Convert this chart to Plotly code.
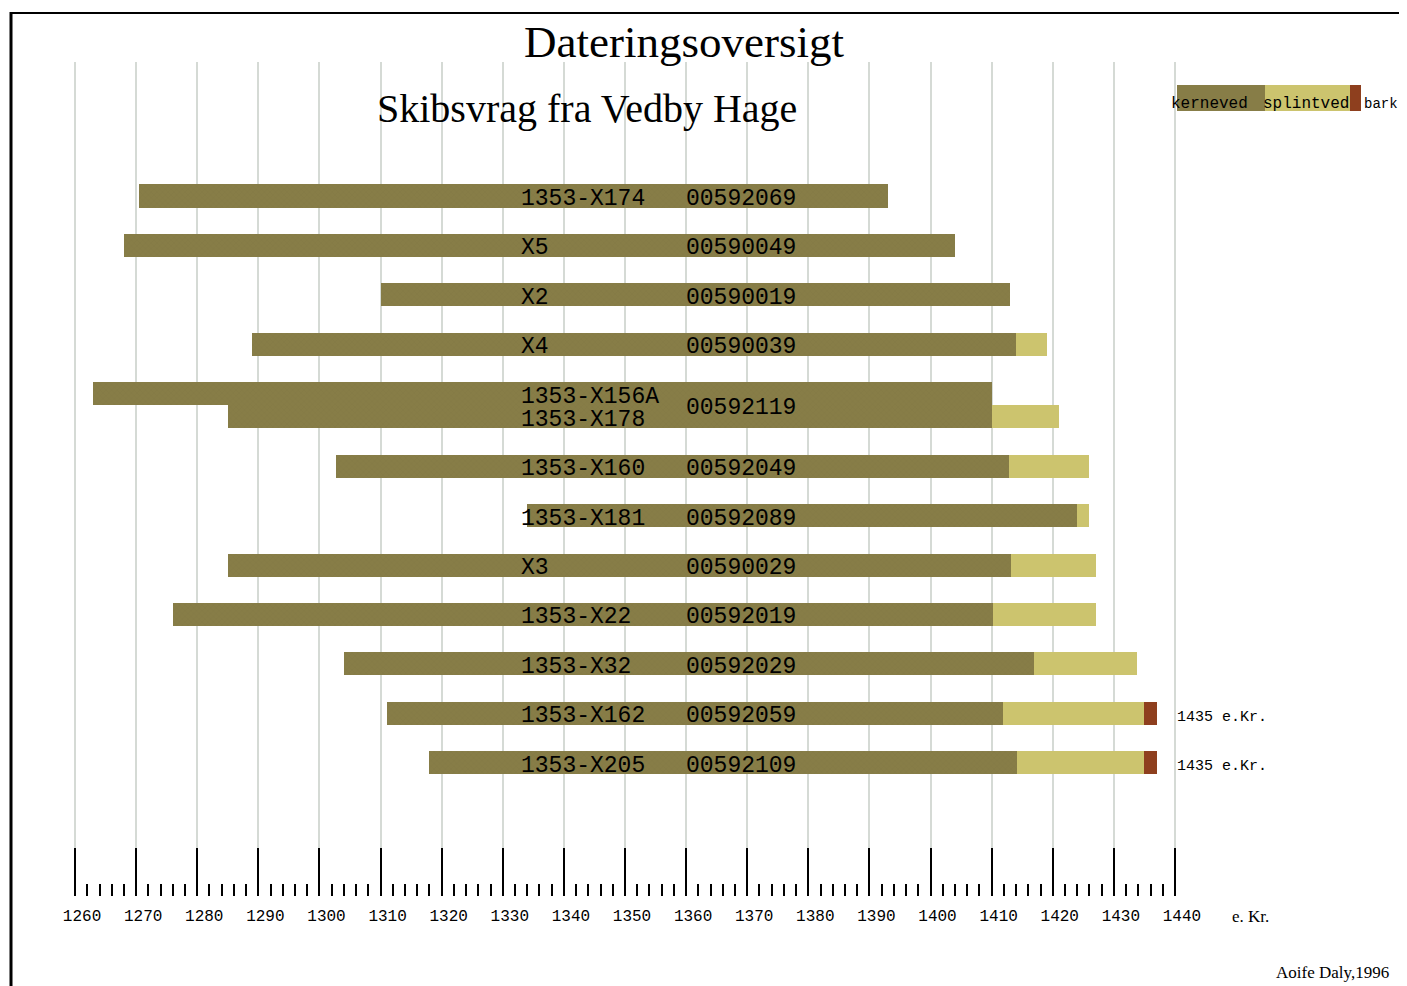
import plotly.graph_objects as go

# ---------------- data ----------------
sample_ids = ["1353-X174", "X5", "X2", "X4", "1353-X156A", "1353-X178", "1353-X160",
              "1353-X181", "X3", "1353-X22", "1353-X32", "1353-X162", "1353-X205"]
lab_codes = ["00592069", "00590049", "00590019", "00590039", "", "", "00592049",
             "00592089", "00590029", "00592019", "00592029", "00592059", "00592109"]
shared_code = "00592119"          # shared by 1353-X156A / 1353-X178
row_pos = [1, 2, 3, 4, 5, 5.47, 6.47, 7.47, 8.47, 9.47, 10.47, 11.47, 12.47]

first_ring = [1270.5, 1268, 1310, 1289, 1263, 1285, 1302.7, 1334, 1285, 1276, 1304, 1311, 1318]
heart_end = [1393, 1404, 1413, 1414, 1410, 1410, 1412.8, 1424, 1413.2, 1410.3, 1417, 1411.8, 1414.1]
sap_end = [1393, 1404, 1413, 1419, 1410, 1421, 1426, 1426, 1427, 1427, 1433.8, 1435, 1435]
bark_end = [1393, 1404, 1413, 1419, 1410, 1421, 1426, 1426, 1427, 1427, 1433.8, 1437, 1437]
felling_labels = {11: "1435 e.Kr.", 12: "1435 e.Kr."}

major_ticks = list(range(1260, 1441, 10))
tick_text = [str(t) for t in major_ticks]

HEART = "#877D47"
SAP = "#CCC46E"
BARK = "#8E3F1E"
GRID = "#D5DAD5"

# ---------------- layout geometry ----------------
OFF = 8                      # page body margin
W, H = 1407 - OFF, 986 - OFF
PLOT_L, PLOT_R, PLOT_T, PLOT_B = 72, 1178, 62, 896   # page pixels
ML, MT = PLOT_L - OFF, PLOT_T - OFF
MR = W - (PLOT_R - OFF)
MB = H - (PLOT_B - OFF)
PW, PH = W - ML - MR, H - MT - MB
X0, X1 = 1259.5, 1440.5


def px(xp):
    return (xp - PLOT_L) / PW


def py(yp):
    return (PLOT_B - yp) / PH


BAR_W = 0.466

fig = go.Figure()
fig.add_trace(go.Bar(
    orientation="h", y=row_pos, base=first_ring,
    x=[h - s for h, s in zip(heart_end, first_ring)], width=BAR_W,
    marker=dict(color=HEART, line=dict(width=0),
                pattern=dict(shape="x", fgcolor="#7D7441", bgcolor=HEART, size=4, solidity=0.25)),
    name="kerneved", showlegend=False, hoverinfo="skip"))
fig.add_trace(go.Bar(
    orientation="h", y=row_pos, base=heart_end,
    x=[s - h for s, h in zip(sap_end, heart_end)], width=BAR_W,
    marker=dict(color=SAP, line=dict(width=0)),
    name="splintved", showlegend=False, hoverinfo="skip"))
fig.add_trace(go.Bar(
    orientation="h", y=row_pos, base=sap_end,
    x=[b - s for b, s in zip(bark_end, sap_end)], width=BAR_W,
    marker=dict(color=BARK, line=dict(width=0)),
    name="bark", showlegend=False, hoverinfo="skip"))

LABEL_FONT = dict(family="Liberation Mono", size=23, color="black")
ann = []
for i, (sid, code, y) in enumerate(zip(sample_ids, lab_codes, row_pos)):
    ann.append(dict(x=1332.7, y=y, xref="x", yref="y", text=sid, showarrow=False,
                    xanchor="left", yanchor="middle", yshift=-3, font=LABEL_FONT))
    if code:
        ann.append(dict(x=1359.7, y=y, xref="x", yref="y", text=code, showarrow=False,
                        xanchor="left", yanchor="middle", yshift=-3, font=LABEL_FONT))
    if i in felling_labels:
        ann.append(dict(x=1440, y=y, xref="x", yref="y", text=felling_labels[i], showarrow=False,
                        xanchor="left", yanchor="middle", yshift=-4,
                        font=dict(family="Liberation Mono", size=15, color="black")))
ann.append(dict(x=1359.7, y=(row_pos[4] + row_pos[5]) / 2, xref="x", yref="y", text=shared_code,
                showarrow=False, xanchor="left", yanchor="middle", yshift=-3, font=LABEL_FONT))

# titles and notes
ann += [
    dict(x=px(684), y=py(42), xref="paper", yref="paper", text="Dateringsoversigt",
         showarrow=False, xanchor="center", yanchor="middle",
         font=dict(family="Liberation Serif", size=45, color="black")),
    dict(x=px(587), y=py(108), xref="paper", yref="paper", text="Skibsvrag fra Vedby Hage",
         showarrow=False, xanchor="center", yanchor="middle",
         font=dict(family="Liberation Serif", size=40, color="black")),
    dict(x=px(1250), y=py(916), xref="paper", yref="paper", text="e. Kr.",
         showarrow=False, xanchor="center", yanchor="middle",
         font=dict(family="Liberation Serif", size=17, color="black")),
    dict(x=px(1391), y=py(972), xref="paper", yref="paper", text="Aoife Daly,1996",
         showarrow=False, xanchor="right", yanchor="middle",
         font=dict(family="Liberation Serif", size=17, color="black")),
    dict(x=px(1209), y=py(104), xref="paper", yref="paper", text="kerneved",
         showarrow=False, xanchor="center", yanchor="middle",
         font=dict(family="Liberation Mono", size=16, color="black")),
    dict(x=px(1306), y=py(104), xref="paper", yref="paper", text="splintved",
         showarrow=False, xanchor="center", yanchor="middle",
         font=dict(family="Liberation Mono", size=16, color="black")),
    dict(x=px(1362), y=py(104), xref="paper", yref="paper", text="bark",
         showarrow=False, xanchor="left", yanchor="middle",
         font=dict(family="Liberation Mono", size=14, color="black")),
]

shapes = [
    # legend swatches
    dict(type="rect", xref="paper", yref="paper", x0=px(1177), x1=px(1265), y0=py(111), y1=py(85),
         fillcolor=HEART, line=dict(width=0), layer="below"),
    dict(type="rect", xref="paper", yref="paper", x0=px(1265), x1=px(1350), y0=py(111), y1=py(85),
         fillcolor=SAP, line=dict(width=0), layer="below"),
    dict(type="rect", xref="paper", yref="paper", x0=px(1350), x1=px(1361), y0=py(111), y1=py(85),
         fillcolor=BARK, line=dict(width=0), layer="below"),
    # frame
    dict(type="line", xref="paper", yref="paper", x0=px(11), x1=px(11), y0=py(12), y1=py(995),
         line=dict(color="black", width=3)),
    dict(type="line", xref="paper", yref="paper", x0=px(10), x1=px(1415), y0=py(13), y1=py(13),
         line=dict(color="black", width=2)),
]

# y mapping: row 1 centre at page pixel 196, 49.4 px per row
ROW1 = 196
y_top = 1 + (PLOT_T - ROW1) / 49.4
y_bot = 1 + (PLOT_B - ROW1) / 49.4

fig.update_layout(
    width=W, height=H, margin=dict(l=ML, r=MR, t=MT, b=MB),
    paper_bgcolor="white", plot_bgcolor="white",
    barmode="overlay", bargap=0,
    annotations=ann, shapes=shapes,
    xaxis=dict(range=[X0, X1], tickmode="array", tickvals=major_ticks, ticktext=tick_text,
               ticks="inside", ticklen=48, tickwidth=2, tickcolor="black",
               showgrid=True, gridcolor=GRID, gridwidth=2, showline=False, zeroline=False,
               ticklabelstandoff=8, ticklabelshift=7,
               tickfont=dict(family="Liberation Mono", size=16, color="black"),
               minor=dict(ticks="inside", ticklen=12, tickwidth=2, tickcolor="black",
                          dtick=2, tick0=1260, showgrid=False)),
    yaxis=dict(range=[y_bot, y_top], visible=False, showgrid=False, zeroline=False),
)

fig.write_html("out.html")
